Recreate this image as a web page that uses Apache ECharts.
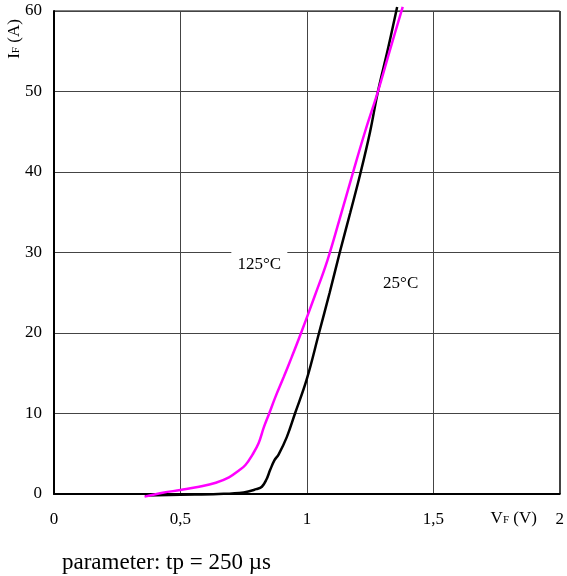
<!DOCTYPE html>
<html>
<head>
<meta charset="utf-8">
<script src="https://cdn.jsdelivr.net/npm/echarts@6/dist/echarts.min.js"></script>
<style>
  html, body { margin: 0; padding: 0; background: #fff; }
  #main { width: 567px; height: 576px; }
</style>
</head>
<body>
<div id="main"></div>
<script>
// forward characteristic, V (volts) vs I (amps)
var curve25 = [
  [0.36, -0.2], [0.5, -0.1], [0.65, 0], [0.75, 0.2], [0.8, 0.6], [0.822, 0.9],
  [0.84, 1.8], [0.855, 3.0], [0.872, 4.2], [0.888, 4.9], [0.921, 7.1], [0.953, 10],
  [0.999, 14.2], [1.048, 20], [1.09, 25], [1.13, 30], [1.172, 35], [1.213, 40],
  [1.25, 45], [1.281, 50], [1.32, 55.2], [1.357, 60.5]
];
var curve125 = [
  [0.358, -0.33], [0.43, 0.15], [0.5, 0.5], [0.574, 0.9], [0.64, 1.4], [0.692, 2.07],
  [0.73, 2.9], [0.757, 3.6], [0.785, 4.9], [0.809, 6.3], [0.83, 8.3], [0.851, 10],
  [0.875, 12], [0.908, 14.5], [0.94, 17], [0.977, 20], [1.03, 24.5], [1.081, 29],
  [1.13, 34.2], [1.183, 40], [1.23, 45], [1.281, 50], [1.329, 55.2], [1.379, 60.5]
];
var seriesNames = ['25°C', '125°C'];
var xTicks = [0, 0.5, 1, 1.5, 2];
var yTicks = [0, 10, 20, 30, 40, 50, 60];

var font = 'Liberation Serif';
var myChart = echarts.init(document.getElementById('main'));

var option = {
  animation: false,
  backgroundColor: '#fff',
  grid: { left: 54, right: 4, top: 11, bottom: 82, show: true, borderColor: '#000', borderWidth: 1 },
  xAxis: {
    type: 'value', min: xTicks[0], max: xTicks[xTicks.length - 1], interval: 0.5,
    axisLine: { lineStyle: { color: '#000', width: 2 } },
    axisTick: { show: false },
    splitLine: { lineStyle: { color: '#444', width: 1 } },
    axisLabel: {
      margin: 17, color: '#000', fontFamily: font, fontSize: 17,
      formatter: function (v) { return String(v).replace('.', ','); }
    }
  },
  yAxis: {
    type: 'value', min: yTicks[0], max: yTicks[yTicks.length - 1], interval: 10,
    axisLine: { lineStyle: { color: '#000', width: 2 } },
    axisTick: { show: false },
    splitLine: { lineStyle: { color: '#444', width: 1 } },
    axisLabel: { margin: 12, color: '#000', fontFamily: font, fontSize: 17 }
  },
  series: [
    {
      name: seriesNames[0], type: 'line', data: curve25, showSymbol: false,
      smooth: 0.4, clip: false, z: 3,
      lineStyle: { color: '#000', width: 2.5 }
    },
    {
      name: seriesNames[1], type: 'line', data: curve125, showSymbol: false,
      smooth: 0.4, clip: false, z: 4,
      lineStyle: { color: '#ff00ff', width: 2.5 }
    }
  ]
};
myChart.setOption(option);

var p125 = myChart.convertToPixel({ gridIndex: 0 }, [0.812, 28.5]);
var p25 = myChart.convertToPixel({ gridIndex: 0 }, [1.371, 26.2]);
var pVF = myChart.convertToPixel({ gridIndex: 0 }, [1.818, 0]);

myChart.setOption({
  graphic: [
    {
      type: 'rect', shape: { x: p125[0] - 28, y: p125[1] - 18, width: 56, height: 30 },
      style: { fill: '#fff' }, z: 10
    },
    {
      type: 'text', x: p125[0], y: p125[1], z: 11,
      style: { text: seriesNames[1], fontFamily: font, fontSize: 17, fill: '#000', align: 'center', verticalAlign: 'middle' }
    },
    {
      type: 'text', x: p25[0], y: p25[1], z: 11,
      style: { text: seriesNames[0], fontFamily: font, fontSize: 17, fill: '#000', align: 'center', verticalAlign: 'middle' }
    },
    {
      type: 'text', x: pVF[0], y: pVF[1] + 25, z: 11,
      style: {
        text: '{b|V}{s|F}{b| (V)}', align: 'center', verticalAlign: 'middle',
        rich: {
          b: { fontFamily: font, fontSize: 17, fill: '#000' },
          s: { fontFamily: font, fontSize: 11, fill: '#000', padding: [3, 0, 0, 0] }
        }
      }
    },
    {
      type: 'text', x: 15, y: 39, rotation: Math.PI / 2, z: 11,
      style: {
        text: '{b|I}{s|F}{b| (A)}', align: 'center', verticalAlign: 'middle',
        rich: {
          b: { fontFamily: font, fontSize: 17, fill: '#000' },
          s: { fontFamily: font, fontSize: 11, fill: '#000', padding: [3, 0, 0, 0] }
        }
      }
    },
    {
      type: 'text', x: 62, y: 563, z: 11,
      style: { text: 'parameter: tp = 250 µs', fontFamily: font, fontSize: 23, fill: '#000', align: 'left', verticalAlign: 'middle' }
    }
  ]
});
</script>
</body>
</html>
